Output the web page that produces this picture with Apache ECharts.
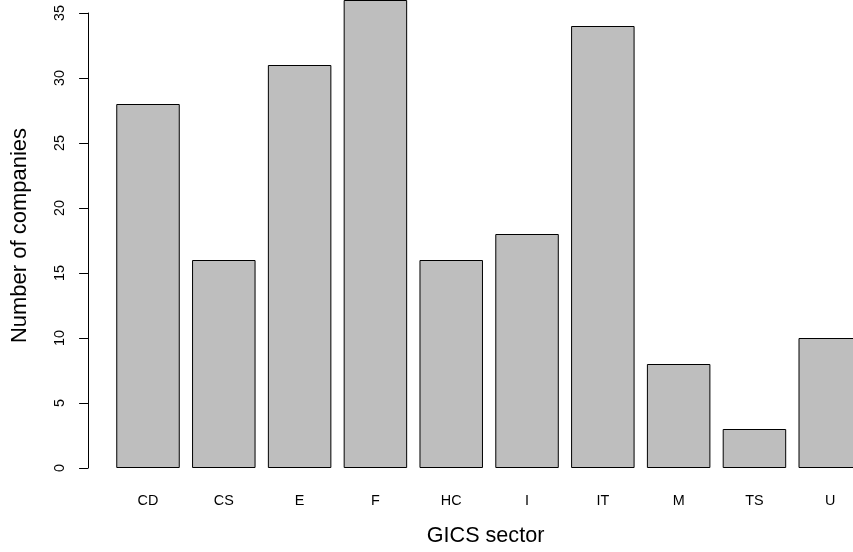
<!DOCTYPE html>
<html>
<head>
<meta charset="utf-8">
<script src="https://cdn.jsdelivr.net/npm/echarts@6/dist/echarts.min.js"></script>
<style>html,body{margin:0;padding:0;background:#fff;}#c{width:853px;height:552px;}</style>
</head>
<body>
<div id="c"></div>
<script>
var categories = ['CD', 'CS', 'E', 'F', 'HC', 'I', 'IT', 'M', 'TS', 'U'];
var companies = [28, 16, 31, 36, 16, 18, 34, 8, 3, 10];
var yTicks = [0, 5, 10, 15, 20, 25, 30, 35];

var font = 'Liberation Sans, Arial, Helvetica, sans-serif';
var positions = categories.map(function (c, i) { return i; });
var barData = categories.map(function (c, i) { return [i, companies[i]]; });

var chart = echarts.init(document.getElementById('c'), null, {renderer: 'canvas'});
chart.setOption({
  animation: false,
  backgroundColor: '#ffffff',
  grid: {left: 110.1, right: 0, top: 13, bottom: 84, containLabel: false},
  xAxis: {
    type: 'value',
    min: -0.5,
    max: 9.3,
    axisLine: {show: false, onZero: false},
    axisTick: {show: false},
    splitLine: {show: false},
    axisLabel: {
      color: '#000', fontSize: 14.4, fontFamily: font, margin: 26,
      customValues: positions,
      formatter: function (v) { return categories[Math.round(v)] || ''; }
    },
    name: 'GICS sector',
    nameLocation: 'middle',
    nameGap: 57,
    nameTextStyle: {color: '#000', fontSize: 21.6, fontFamily: font, padding: [0, 0, 0, 8]}
  },
  yAxis: {
    type: 'value',
    min: yTicks[0],
    max: yTicks[yTicks.length - 1],
    interval: 5,
    offset: 22,
    axisLine: {show: true, onZero: false, lineStyle: {color: '#000', width: 1}},
    axisTick: {show: true, length: 9, lineStyle: {color: '#000', width: 1}},
    splitLine: {show: false},
    axisLabel: {color: '#000', fontSize: 14.4, fontFamily: font, rotate: 90, margin: 21},
    name: 'Number of companies',
    nameLocation: 'middle',
    nameRotate: 90,
    nameGap: 57,
    nameTextStyle: {color: '#000', fontSize: 22, fontFamily: font, padding: [0, 0, 0, 10]}
  },
  series: [{
    type: 'bar',
    data: barData,
    barWidth: 63.5,
    clip: false,
    itemStyle: {color: '#BEBEBE', borderColor: '#000', borderWidth: 1}
  }]
});
</script>
</body>
</html>
